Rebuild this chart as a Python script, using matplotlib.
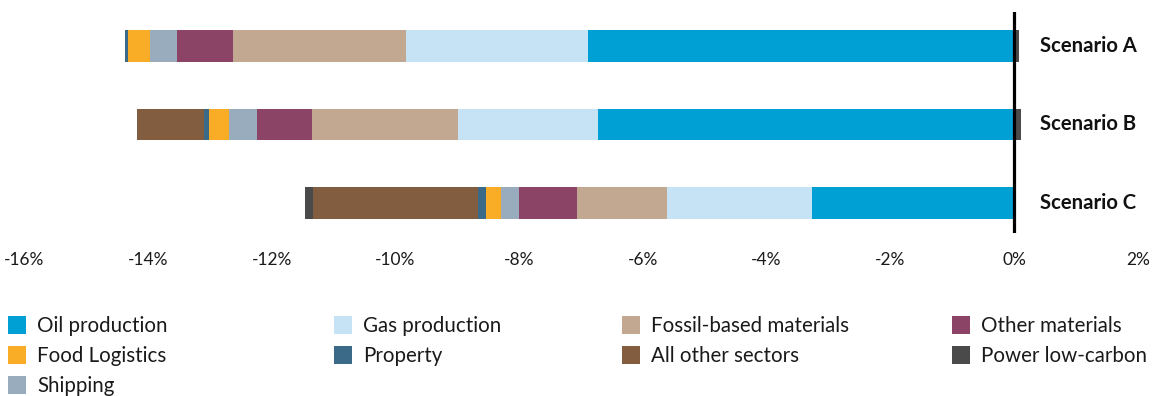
import matplotlib
matplotlib.use('Agg')
import matplotlib.pyplot as plt
from matplotlib.patches import Rectangle
import numpy as np

plt.rcParams['font.family'] = ['Lato', 'DejaVu Sans']
plt.rcParams['axes.unicode_minus'] = False

scenarios = ["Scenario A", "Scenario B", "Scenario C"]

# change by sector, % (stacked from zero outwards)
oil_production = [-6.89, -6.73, -3.26]
gas_production = [-2.94, -2.26, -2.35]
fossil_materials = [-2.80, -2.36, -1.45]
other_materials = [-0.90, -0.89, -0.94]
shipping = [-0.44, -0.45, -0.30]
food_logistics = [-0.355, -0.33, -0.23]
property_ = [-0.05, -0.08, -0.14]
all_other = [0.0, -1.08, -2.67]
power_low_carbon = [0.08, 0.11, -0.13]

xticks = [-16, -14, -12, -10, -8, -6, -4, -2, 0, 2]

series = [
    ("Oil production", oil_production, "#009fd4"),
    ("Gas production", gas_production, "#c5e3f4"),
    ("Fossil-based materials", fossil_materials, "#c2a891"),
    ("Other materials", other_materials, "#8b4466"),
    ("Shipping", shipping, "#98acbd"),
    ("Food Logistics", food_logistics, "#f9ac25"),
    ("Property", property_, "#3a6a88"),
    ("All other sectors", all_other, "#825d40"),
    ("Power low-carbon", power_low_carbon, "#4a4a4a"),
]

W, H = 1158, 396
fig = plt.figure(figsize=(W / 100, H / 100), dpi=100)
ax = fig.add_axes([24.4 / W, 1 - 233 / H, (1137.7 - 24.4) / W, 221 / H])

y = np.arange(len(scenarios))
neg = np.zeros(len(scenarios))
pos = np.zeros(len(scenarios))
colors = {}
for name, vals, color in series:
    vals = np.array(vals)
    left = np.where(vals < 0, neg, pos)
    ax.barh(y, vals, left=left, height=0.4, color=color, edgecolor='none')
    neg += np.minimum(vals, 0)
    pos += np.maximum(vals, 0)
    colors[name] = color

ax.axvline(0, color='black', linewidth=2.3, zorder=5)

for yi, s in zip(y, scenarios):
    ax.text(0.42, yi, s, ha='left', va='center', fontsize=14.6, fontweight='bold',
            color='#111111')

ax.set_xlim(-16, 2)
ax.set_ylim(2.38, -0.43)
ax.set_xticks(xticks)
ax.set_xticklabels([f"{t}%" for t in xticks], fontsize=12.5, color='#1a1a1a')
ax.tick_params(axis='x', length=0, pad=14)
ax.set_yticks([])
for sp in ax.spines.values():
    sp.set_visible(False)

# legend laid out in a fixed grid
legend_order = ["Oil production", "Gas production", "Fossil-based materials", "Other materials",
                "Food Logistics", "Property", "All other sectors", "Power low-carbon",
                "Shipping"]
col_x = [8, 334, 622, 952]
row_y = [325, 355, 385]
for i, name in enumerate(legend_order):
    cx = col_x[i % 4]
    cy = row_y[i // 4]
    fig.add_artist(Rectangle((cx / W, 1 - (cy + 9) / H), 18 / W, 18 / H,
                             transform=fig.transFigure, color=colors[name], lw=0))
    fig.text((cx + 29) / W, 1 - (cy + 1) / H, name, ha='left', va='center',
             fontsize=14.8, color='#1a1a1a')

fig.savefig("out.png", dpi=100)
